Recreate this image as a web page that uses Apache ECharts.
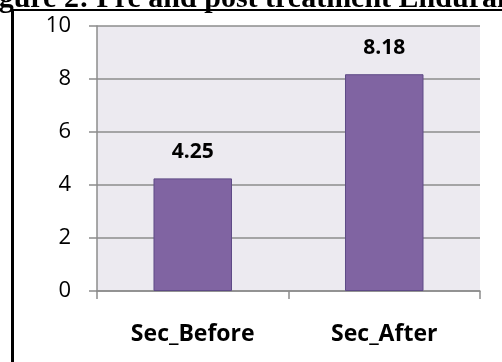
<!DOCTYPE html>
<html>
<head>
<meta charset="utf-8">
<script src="https://cdn.jsdelivr.net/npm/echarts@6/dist/echarts.min.js"></script>
<style>
  html, body { margin: 0; padding: 0; background: #fff; }
  #chart { width: 502px; height: 362px; }
</style>
</head>
<body>
<div id="chart"></div>
<script>
const categories = ["Sec_Before", "Sec_After"];
const values = [4.25, 8.18];
const titleText = "Figure 2: Pre and post treatment Endurance";

const chart = echarts.init(document.getElementById("chart"));
chart.setOption({
  animation: false,
  grid: {
    left: 97,
    right: 22,
    top: 26,
    bottom: 71,
    show: true,
    backgroundColor: "#ECEAF0",
    borderWidth: 0,
  },
  graphic: [
    {
      type: "text",
      left: -28,
      top: -16,
      z: 1,
      style: {
        text: titleText,
        font: "bold 30px 'Liberation Serif'",
        fill: "#000",
      },
    },
    {
      type: "line",
      z: 2,
      shape: { x1: 12.5, y1: 9, x2: 12.5, y2: 362 },
      style: { stroke: "#000", lineWidth: 3 },
    },
    {
      type: "line",
      z: 2,
      shape: { x1: 11, y1: 10, x2: 502, y2: 10 },
      style: { stroke: "#000", lineWidth: 2 },
    },
  ],
  xAxis: {
    type: "category",
    data: categories,
    axisLine: { lineStyle: { color: "#8c8c8c", width: 1.5 } },
    axisTick: { show: true, length: 8, lineStyle: { color: "#8c8c8c", width: 1.5 } },
    axisLabel: {
      margin: 32,
      fontFamily: "Open Sans",
      fontWeight: "bold",
      fontSize: 23,
      color: "#000",
    },
  },
  yAxis: {
    type: "value",
    min: 0,
    max: 10,
    interval: 2,
    axisLine: { show: true, lineStyle: { color: "#8c8c8c", width: 1.5 } },
    axisTick: { show: true, length: 8, lineStyle: { color: "#8c8c8c", width: 1.5 } },
    splitLine: { lineStyle: { color: "#8c8c8c", width: 1.5 } },
    axisLabel: {
      margin: 26,
      fontFamily: "Open Sans",
      fontSize: 22,
      color: "#000",
    },
  },
  series: [
    {
      type: "bar",
      data: values,
      barWidth: "41%",
      itemStyle: {
        color: "#8064A2",
        borderColor: "#5E4A86",
        borderWidth: 1,
      },
      label: {
        show: true,
        position: "top",
        distance: 16,
        fontFamily: "Open Sans",
        fontWeight: "bold",
        fontSize: 21,
        color: "#000",
      },
    },
  ],
});
</script>
</body>
</html>
